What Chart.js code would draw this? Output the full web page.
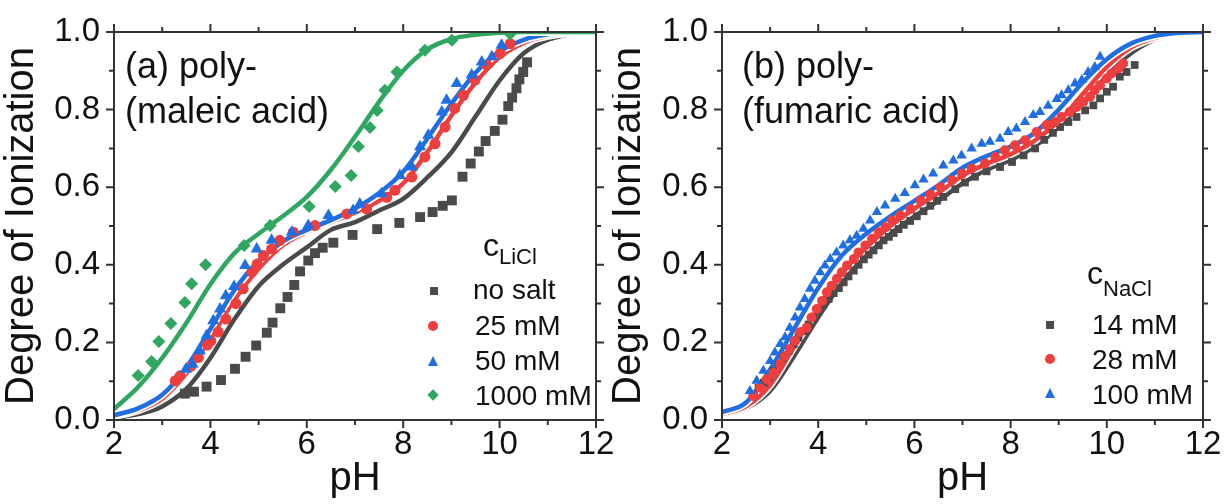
<!DOCTYPE html>
<html><head><meta charset="utf-8">
<script src="https://cdn.jsdelivr.net/npm/chart.js@4.4.0/dist/chart.umd.min.js"></script>
<style>
html,body{margin:0;padding:0;background:#fff;}
#wrap{position:relative;width:1225px;height:504px;overflow:hidden;background:#fff;font-family:"Liberation Sans",Arial,sans-serif;color:#111;}
canvas{position:absolute;top:0;}
#cA{left:0;}
#cB{left:612px;}
.t{position:absolute;white-space:nowrap;}
.ann{font-size:36px;line-height:45px;}
.lg{font-size:28px;line-height:28px;}
.mk{position:absolute;}
</style></head><body>
<div id="wrap">
<canvas id="cA" width="640" height="504"></canvas>
<canvas id="cB" width="613" height="504"></canvas>

<div class="t ann" style="left:125px;top:43px">(a) poly-<br>(maleic acid)</div>
<div class="t ann" style="left:742px;top:43px">(b) poly-<br>(fumaric acid)</div>

<div class="t" style="left:483px;top:229px;font-size:32px;line-height:32px">c</div>
<div class="t" style="left:499px;top:246px;font-size:22px;line-height:22px">LiCl</div>
<div class="mk" style="left:430px;top:287px;width:8px;height:8px;background:#4a4a4a"></div>
<div class="mk" style="left:428px;top:321px;width:10px;height:10px;border-radius:50%;background:#ef3e3e"></div>
<div class="mk" style="left:428px;top:356px;width:0;height:0;border-left:5.5px solid transparent;border-right:5.5px solid transparent;border-bottom:10px solid #1f6fe3"></div>
<div class="mk" style="left:429px;top:391px;width:8px;height:8px;background:#2fa760;transform:rotate(45deg)"></div>
<div class="t lg" style="left:473px;top:276px">no salt</div>
<div class="t lg" style="left:475px;top:312px">25 mM</div>
<div class="t lg" style="left:475px;top:347px">50 mM</div>
<div class="t lg" style="left:475px;top:382px">1000 mM</div>

<div class="t" style="left:1087px;top:257px;font-size:32px;line-height:32px">c</div>
<div class="t" style="left:1103px;top:278px;font-size:22px;line-height:22px">NaCl</div>
<div class="mk" style="left:1046px;top:321px;width:8px;height:8px;background:#4a4a4a"></div>
<div class="mk" style="left:1045px;top:354px;width:10px;height:10px;border-radius:50%;background:#ef3e3e"></div>
<div class="mk" style="left:1044.5px;top:387.5px;width:0;height:0;border-left:5.5px solid transparent;border-right:5.5px solid transparent;border-bottom:10px solid #1f6fe3"></div>
<div class="t lg" style="left:1092px;top:311px">14 mM</div>
<div class="t lg" style="left:1092px;top:346px">28 mM</div>
<div class="t lg" style="left:1092px;top:381px">100 mM</div>
</div>
<script>
// ---------- axis ticks ----------
const X_MIN = 2, X_MAX = 12, X_STEP = 1;
const Y_MIN = 0, Y_MAX = 1, Y_STEP = 0.1;

// ---------- fit curve grid ----------
const FIT_PH = [2,2.5,3,3.5,4,4.5,5,5.5,6,6.5,7,7.5,8,8.5,9,9.5,10,10.5,11,11.5,12];

// ---------- panel (a): poly(maleic acid), LiCl ----------
const A_NOSALT_PH = [3.47,3.66,3.92,4.22,4.51,4.73,4.95,5.17,5.29,5.45,5.60,5.74,5.86,6.03,6.17,6.33,6.55,6.95,7.46,7.92,8.35,8.61,8.82,9.01,9.23,9.40,9.57,9.71,9.90,10.06,10.18,10.26,10.35,10.41,10.49,10.57];
const A_NOSALT_Y  = [0.068,0.073,0.086,0.103,0.132,0.163,0.192,0.225,0.251,0.288,0.317,0.348,0.383,0.411,0.430,0.444,0.457,0.477,0.492,0.508,0.523,0.536,0.552,0.566,0.627,0.661,0.692,0.719,0.745,0.774,0.809,0.831,0.855,0.878,0.897,0.922];
const A_25_PH = [3.27,3.37,3.59,3.75,3.94,4.01,4.16,4.32,4.53,4.68,4.86,4.97,5.10,5.27,5.44,5.72,6.17,6.83,7.24,7.66,7.83,8.18,8.45,8.66,8.87,9.07,9.25,9.49,9.73,10.01,10.22];
const A_25_Y  = [0.101,0.114,0.138,0.161,0.193,0.204,0.227,0.260,0.300,0.338,0.381,0.402,0.424,0.441,0.463,0.484,0.501,0.531,0.544,0.574,0.592,0.626,0.678,0.712,0.755,0.803,0.837,0.876,0.915,0.945,0.970];
const A_50_PH = [3.49,3.63,3.78,3.92,4.06,4.20,4.32,4.49,4.72,4.96,5.27,5.69,6.03,6.45,6.96,7.10,7.55,7.93,8.18,8.35,8.52,8.80,8.90,9.11,9.42,9.63,9.84,10.04];
const A_50_Y  = [0.131,0.144,0.178,0.217,0.256,0.286,0.320,0.344,0.398,0.441,0.463,0.484,0.501,0.527,0.540,0.557,0.583,0.630,0.652,0.704,0.734,0.794,0.824,0.867,0.889,0.923,0.936,0.966];
const A_1000_PH = [2.50,2.78,2.93,3.18,3.47,3.61,3.90,4.70,5.24,6.05,6.59,6.92,7.07,7.31,7.46,7.62,7.87,8.45,9.01,10.22];
const A_1000_Y  = [0.115,0.151,0.202,0.249,0.303,0.351,0.400,0.450,0.501,0.550,0.602,0.630,0.705,0.754,0.798,0.850,0.897,0.953,0.979,0.995];

const FIT_A_NOSALT = [0.005,0.015,0.035,0.08,0.16,0.26,0.345,0.40,0.445,0.49,0.51,0.54,0.57,0.625,0.69,0.782,0.875,0.945,0.98,0.995,1.0];
const FIT_A_25     = [0.01,0.025,0.055,0.12,0.21,0.31,0.39,0.45,0.485,0.51,0.535,0.565,0.61,0.69,0.785,0.87,0.935,0.972,0.99,0.998,1.0];
const FIT_A_50     = [0.012,0.03,0.065,0.135,0.235,0.335,0.41,0.46,0.49,0.515,0.545,0.585,0.64,0.725,0.815,0.895,0.95,0.98,0.994,0.999,1.0];
const FIT_A_1000   = [0.028,0.085,0.16,0.25,0.35,0.43,0.48,0.525,0.575,0.645,0.73,0.82,0.90,0.955,0.982,0.993,0.998,1.0,1.0,1.0,1.0];

// ---------- panel (b): poly(fumaric acid), NaCl ----------
const B_14_PH = [2.66,2.76,2.87,2.97,3.07,3.18,3.28,3.39,3.49,3.59,3.70,3.80,3.91,4.01,4.11,4.22,4.32,4.43,4.53,4.63,4.74,4.84,4.95,5.05,5.15,5.26,5.36,5.47,5.57,5.67,5.78,5.91,6.05,6.19,6.33,6.47,6.60,6.85,7.05,7.26,7.50,7.78,8.03,8.27,8.51,8.70,8.88,9.03,9.20,9.37,9.55,9.72,9.86,10.00,10.13,10.27,10.41,10.58];
const B_14_Y  = [0.065,0.083,0.096,0.109,0.126,0.143,0.160,0.178,0.195,0.212,0.229,0.246,0.264,0.281,0.298,0.312,0.327,0.340,0.355,0.370,0.385,0.400,0.414,0.426,0.437,0.450,0.463,0.472,0.482,0.492,0.503,0.513,0.525,0.538,0.552,0.565,0.575,0.595,0.612,0.627,0.641,0.652,0.665,0.682,0.700,0.722,0.740,0.755,0.768,0.781,0.798,0.811,0.829,0.846,0.859,0.885,0.897,0.915];
const B_28_PH = [2.65,2.79,2.93,3.07,3.21,3.31,3.41,3.52,3.62,3.76,3.86,3.97,4.08,4.18,4.28,4.39,4.49,4.60,4.74,4.84,4.98,5.12,5.26,5.40,5.54,5.71,5.92,6.13,6.33,6.54,6.78,6.99,7.19,7.47,7.68,7.88,8.09,8.30,8.54,8.75,8.92,9.06,9.23,9.37,9.51,9.65,9.75,9.86,10.00,10.10,10.24,10.34];
const B_28_Y  = [0.062,0.083,0.105,0.122,0.144,0.165,0.183,0.204,0.226,0.238,0.264,0.286,0.307,0.329,0.346,0.364,0.381,0.398,0.415,0.432,0.450,0.467,0.484,0.497,0.514,0.527,0.544,0.565,0.581,0.600,0.618,0.635,0.648,0.661,0.678,0.695,0.708,0.721,0.742,0.760,0.768,0.781,0.794,0.807,0.820,0.833,0.850,0.863,0.880,0.893,0.906,0.919];
const B_100_PH = [2.58,2.72,2.86,3.00,3.10,3.21,3.31,3.41,3.52,3.62,3.72,3.83,3.93,4.04,4.14,4.25,4.38,4.52,4.66,4.80,4.94,5.08,5.22,5.39,5.60,5.80,6.01,6.19,6.39,6.60,6.81,6.98,7.19,7.40,7.57,7.78,7.95,8.12,8.30,8.47,8.61,8.78,8.96,9.06,9.20,9.34,9.48,9.61,9.75,9.86];
const B_100_Y  = [0.075,0.101,0.127,0.152,0.174,0.196,0.213,0.238,0.264,0.290,0.312,0.338,0.359,0.381,0.398,0.415,0.432,0.450,0.463,0.475,0.493,0.514,0.536,0.553,0.570,0.585,0.605,0.620,0.635,0.656,0.669,0.682,0.700,0.712,0.717,0.725,0.742,0.751,0.768,0.786,0.794,0.810,0.827,0.837,0.850,0.867,0.876,0.897,0.910,0.936];

const FIT_B_14  = [0.012,0.03,0.075,0.165,0.265,0.355,0.425,0.48,0.525,0.565,0.61,0.645,0.67,0.705,0.755,0.82,0.89,0.945,0.98,0.995,1.0];
const FIT_B_28  = [0.015,0.035,0.09,0.19,0.29,0.38,0.445,0.50,0.545,0.585,0.63,0.66,0.685,0.72,0.77,0.84,0.91,0.96,0.985,0.997,1.0];
const FIT_B_100 = [0.02,0.045,0.13,0.235,0.34,0.425,0.48,0.525,0.565,0.605,0.65,0.68,0.705,0.74,0.80,0.87,0.93,0.97,0.99,0.998,1.0];

// ---------- styling ----------
const GRAY = '#4a4a4a', RED = '#ef3e3e', BLUE = '#1f6fe3', GREEN = '#2fa760';
const AXIS_COLOR = '#333';
const FONT = '"Liberation Sans", Arial, sans-serif';

const pts = (xs, ys) => xs.map((x, i) => ({x, y: ys[i]}));
function fitDs(ys, color, order) {
  const data = pts(FIT_PH, ys);
  const base = {data, showLine: true, pointRadius: 0, fill: false, cubicInterpolationMode: 'monotone'};
  return [
    Object.assign({}, base, {borderColor: '#ffffff', borderWidth: 8, order: order + 0.5}),
    Object.assign({}, base, {borderColor: color, borderWidth: 4.5, order: order})
  ];
}
function ptDs(xs, ys, color, style, r, order) {
  return {data: pts(xs, ys), showLine: false, pointStyle: style, pointRadius: r,
    backgroundColor: color, borderColor: color, borderWidth: 0, order};
}

const framePlugin = {
  id: 'frame',
  afterDraw(chart) {
    const {ctx, chartArea: a, scales: {x, y}} = chart;
    ctx.save();
    ctx.strokeStyle = AXIS_COLOR;
    ctx.lineWidth = 2;
    ctx.strokeRect(a.left, a.top, a.right - a.left, a.bottom - a.top);
    ctx.beginPath();
    x.ticks.forEach(t => {
      const p = x.getPixelForValue(t.value);
      const len = Math.round(t.value) % 2 === 0 ? 8 : 5;
      ctx.moveTo(p, a.bottom); ctx.lineTo(p, a.bottom + len);
      ctx.moveTo(p, a.top); ctx.lineTo(p, a.top - len);
    });
    y.ticks.forEach(t => {
      const p = y.getPixelForValue(t.value);
      const len = Math.round(t.value * 10) % 2 === 0 ? 8 : 5;
      ctx.moveTo(a.left, p); ctx.lineTo(a.left - len, p);
      ctx.moveTo(a.right, p); ctx.lineTo(a.right + len, p);
    });
    ctx.stroke();
    ctx.restore();
  }
};

function makeChart(id, datasets, yWidth, padRight, yTitlePad) {
  return new Chart(document.getElementById(id), {
    type: 'scatter',
    data: {datasets},
    plugins: [framePlugin],
    options: {
      responsive: false, animation: false,
      layout: {padding: {left: 0, top: 32, right: padRight, bottom: 0}},
      plugins: {legend: {display: false}, tooltip: {enabled: false}},
      scales: {
        x: {
          type: 'linear', min: X_MIN, max: X_MAX,
          grid: {display: false, drawTicks: false}, border: {display: false},
          ticks: {stepSize: X_STEP, autoSkip: false, maxRotation: 0, padding: 8, color: '#111',
            font: {family: FONT, size: 33, lineHeight: 1},
            callback: v => (Math.round(v) % 2 === 0 ? String(Math.round(v)) : '')},
          title: {display: true, text: 'pH', color: '#111', font: {family: FONT, size: 40, lineHeight: 1}, padding: {top: 0, bottom: 5}},
          afterFit: s => { s.height = 84; s.paddingLeft = 0; s.paddingRight = 0; }
        },
        y: {
          type: 'linear', min: Y_MIN, max: Y_MAX,
          grid: {display: false, drawTicks: false}, border: {display: false},
          ticks: {stepSize: Y_STEP, autoSkip: false, padding: 14, color: '#111',
            font: {family: FONT, size: 33, lineHeight: 1},
            callback: v => (Math.round(v * 10) % 2 === 0 ? v.toFixed(1) : '')},
          title: {display: true, text: 'Degree of Ionization', color: '#111', font: {family: FONT, size: 40, lineHeight: 1}, padding: {top: yTitlePad, bottom: 0}},
          afterFit: s => { s.width = yWidth; s.paddingTop = 0; s.paddingBottom = 0; }
        }
      }
    }
  });
}

makeChart('cA', [
  ...fitDs(FIT_A_NOSALT, GRAY, 19),
  ...fitDs(FIT_A_25, RED, 17),
  ...fitDs(FIT_A_50, BLUE, 15),
  ...fitDs(FIT_A_1000, GREEN, 13),
  ptDs(A_NOSALT_PH, A_NOSALT_Y, GRAY, 'rect', 7, 4),
  ptDs(A_25_PH, A_25_Y, RED, 'circle', 5.5, 3),
  ptDs(A_50_PH, A_50_Y, BLUE, 'triangle', 7, 2),
  ptDs(A_1000_PH, A_1000_Y, GREEN, 'rectRot', 6.5, 1)
], 114, 44, 2);

makeChart('cB', [
  ...fitDs(FIT_B_14, GRAY, 19),
  ...fitDs(FIT_B_28, RED, 17),
  ...fitDs(FIT_B_100, BLUE, 15),
  ptDs(B_14_PH, B_14_Y, GRAY, 'rect', 5.5, 4),
  ptDs(B_28_PH, B_28_Y, RED, 'circle', 5, 3),
  ptDs(B_100_PH, B_100_Y, BLUE, 'triangle', 6, 2)
], 110, 22, -3);
</script>
</body></html>
